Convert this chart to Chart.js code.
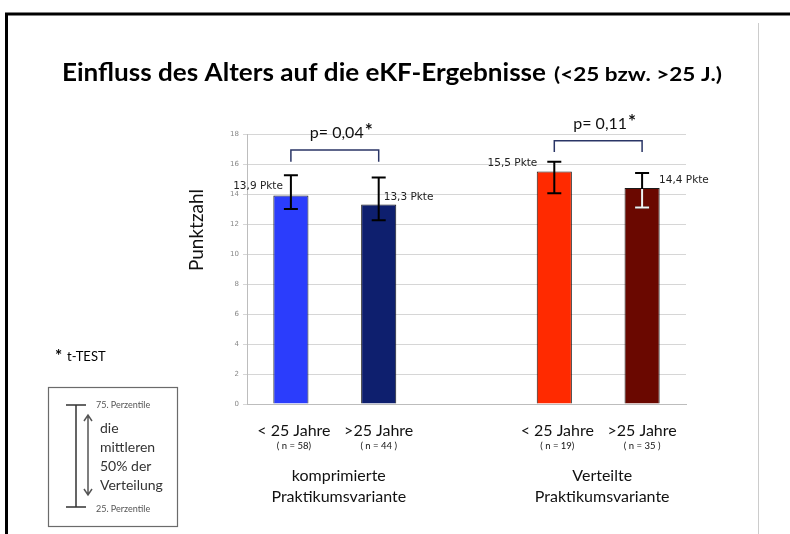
<!DOCTYPE html>
<html lang="de">
<head>
<meta charset="utf-8">
<script src="https://cdn.jsdelivr.net/npm/chart.js@4.4.1/dist/chart.umd.min.js"></script>
<style>
  html, body { margin: 0; padding: 0; background: #ffffff; }
  #wrap { position: relative; width: 790px; height: 534px; }
  canvas { display: block; }
</style>
</head>
<body>
<div id="wrap"><canvas id="c" width="790" height="534"></canvas></div>
<script>
// Age groups per course variant (the empty middle slot separates both variants)
const categories  = ['< 25 Jahre', '>25 Jahre', '', '< 25 Jahre', '>25 Jahre'];
const sampleSizes = ['( n = 58)', '( n = 44 )', '', '( n = 19)', '( n = 35 )'];
// Mean score (points) and interquartile range per group
const meanScores  = [13.9, 13.3, null, 15.5, 14.4];
const q25Scores   = [13.0, 12.25, null, 14.05, 13.1];
const q75Scores   = [15.25, 15.1, null, 16.15, 15.4];
const barColors   = ['#2b3dfc', '#0e1f6e', '#ff2a00', '#6a0800'];
// Course variants, each covering two age groups
const variantNames = [['komprimierte', 'Praktikumsvariante'], ['Verteilte', 'Praktikumsvariante']];
const variantSlots = [[0, 1], [3, 4]];
// t-test p-values between the two age groups of each variant
const pValues     = ['0,04', '0,11'];
const yTicks      = [0, 2, 4, 6, 8, 10, 12, 14, 16, 18];

const FONT = 'Lato, "Open Sans", sans-serif';

function fmt(v) { return v.toFixed(1).replace('.', ','); }

// Draw text scaled horizontally to the given width
function fitText(ctx, text, x, y, targetW) {
  const w = ctx.measureText(text).width;
  ctx.save();
  ctx.translate(x, y);
  ctx.scale(targetW / w, 1);
  ctx.fillText(text, 0, 0);
  ctx.restore();
}

const decorations = {
  id: 'decorations',
  afterDatasetsDraw(chart) {
    const ctx = chart.ctx;
    const xs = chart.scales.x, ys = chart.scales.y;
    ctx.save();

    // error bars (25th to 75th percentile)
    meanScores.forEach((v, i) => {
      if (v === null) return;
      const x = xs.getPixelForValue(i);
      const yLo = ys.getPixelForValue(q25Scores[i]);
      const yHi = ys.getPixelForValue(q75Scores[i]);
      const yTop = ys.getPixelForValue(v);
      const cap = 7;
      ctx.lineWidth = 2;
      ctx.strokeStyle = '#000';
      ctx.beginPath();
      ctx.moveTo(x, yHi); ctx.lineTo(x, yLo);
      ctx.moveTo(x - cap, yHi); ctx.lineTo(x + cap, yHi);
      ctx.moveTo(x - cap, yLo); ctx.lineTo(x + cap, yLo);
      ctx.stroke();
      // lower whisker drawn light on dark bars
      if (i === 4) {
        ctx.strokeStyle = '#f2f2f2';
        ctx.beginPath();
        ctx.moveTo(x, yTop + 1); ctx.lineTo(x, yLo);
        ctx.moveTo(x - cap, yLo); ctx.lineTo(x + cap, yLo);
        ctx.stroke();
      }
    });

    // value labels beside each bar
    const placement = [
      { side: 'left', dx: -8, dy: 0.63 },
      { side: 'right', dx: 5, dy: 0.45 },
      null,
      { side: 'left', dx: -17, dy: 0.55 },
      { side: 'right', dx: 17, dy: 0.5 }
    ];
    ctx.font = '10.5px "DejaVu Sans", sans-serif';
    ctx.fillStyle = '#222';
    ctx.textBaseline = 'middle';
    meanScores.forEach((v, i) => {
      if (v === null) return;
      const p = placement[i];
      const x = xs.getPixelForValue(i);
      const y = ys.getPixelForValue(v + p.dy);
      ctx.textAlign = p.side === 'left' ? 'right' : 'left';
      ctx.fillText(fmt(v) + ' Pkte', x + p.dx, y);
    });

    // significance brackets
    const bracketLevels = [[16.93, 16.15, 18.05], [17.55, 16.8, 18.65]];
    variantSlots.forEach((slots, g) => {
      const x1 = xs.getPixelForValue(slots[0]);
      const x2 = xs.getPixelForValue(slots[1]);
      const [top, leg, txt] = bracketLevels[g];
      const yT = ys.getPixelForValue(top), yL = ys.getPixelForValue(leg);
      ctx.strokeStyle = '#2a3566';
      ctx.lineWidth = 1.5;
      ctx.beginPath();
      ctx.moveTo(x1, yL); ctx.lineTo(x1, yT); ctx.lineTo(x2, yT); ctx.lineTo(x2, yL);
      ctx.stroke();
      const label = 'p= ' + pValues[g];
      ctx.font = '16px ' + FONT;
      const w1 = ctx.measureText(label).width;
      ctx.font = 'bold 19px ' + FONT;
      const w2 = ctx.measureText('*').width;
      const cx = (x1 + x2) / 2 + 6;
      const start = cx - (w1 + w2) / 2;
      const ty = ys.getPixelForValue(txt);
      ctx.fillStyle = '#111';
      ctx.textAlign = 'left';
      ctx.textBaseline = 'middle';
      ctx.font = '16px ' + FONT;
      ctx.fillText(label, start, ty);
      ctx.font = 'bold 19px ' + FONT;
      ctx.fillText('*', start + w1 + 1, ty - 2);
    });

    // category labels with sample sizes
    ctx.fillStyle = '#111';
    ctx.textAlign = 'center';
    categories.forEach((c, i) => {
      if (!c) return;
      const x = xs.getPixelForValue(i) + (i % 3 === 0 ? 3 : 0);
      ctx.font = '16px ' + FONT;
      ctx.fillText(c, x, 431);
      ctx.font = '9.5px ' + FONT;
      ctx.fillText(sampleSizes[i], x, 446);
    });

    // variant names below the groups
    variantSlots.forEach((slots, g) => {
      const cx = (xs.getPixelForValue(slots[0]) + xs.getPixelForValue(slots[1])) / 2 + 4;
      ctx.font = '16px ' + FONT;
      ctx.fillText(variantNames[g][0], cx, 476);
      ctx.fillText(variantNames[g][1], cx, 497);
    });

    // y axis title
    ctx.save();
    ctx.translate(197, 230);
    ctx.rotate(-Math.PI / 2);
    ctx.font = '19px ' + FONT;
    ctx.fillStyle = '#111';
    ctx.fillText('Punktzahl', 0, 0);
    ctx.restore();

    // heading
    ctx.fillStyle = '#000';
    ctx.textAlign = 'left';
    ctx.textBaseline = 'alphabetic';
    ctx.font = 'bold 25px ' + FONT;
    fitText(ctx, 'Einfluss des Alters auf die eKF-Ergebnisse', 62, 81, 484);
    ctx.font = 'bold 18px ' + FONT;
    fitText(ctx, '(<25 bzw. >25 J.)', 554, 81, 168);

    // footnote
    ctx.font = 'bold 17px ' + FONT;
    ctx.fillText('*', 55, 362);
    ctx.font = '13px ' + FONT;
    ctx.textBaseline = 'middle';
    ctx.fillText('t-TEST', 67, 357);

    // key for the error bars
    ctx.strokeStyle = '#6b6b6b';
    ctx.lineWidth = 1.2;
    ctx.strokeRect(48.5, 387.5, 129, 139);
    ctx.strokeStyle = '#333';
    ctx.lineWidth = 1.5;
    ctx.beginPath();
    ctx.moveTo(76, 405); ctx.lineTo(76, 507);
    ctx.moveTo(66, 405); ctx.lineTo(86, 405);
    ctx.moveTo(66, 507); ctx.lineTo(86, 507);
    ctx.stroke();
    ctx.strokeStyle = '#555';
    ctx.beginPath();
    ctx.moveTo(88, 416); ctx.lineTo(88, 494);
    ctx.moveTo(84, 421); ctx.lineTo(88, 415); ctx.lineTo(92, 421);
    ctx.moveTo(84, 489); ctx.lineTo(88, 495); ctx.lineTo(92, 489);
    ctx.stroke();
    ctx.fillStyle = '#555';
    ctx.font = '9px ' + FONT;
    ctx.fillText('75. Perzentile', 96, 405);
    ctx.fillText('25. Perzentile', 96, 509);
    ctx.fillStyle = '#333';
    ctx.font = '14px ' + FONT;
    ['die', 'mittleren', '50% der', 'Verteilung'].forEach((t, k) => {
      ctx.fillText(t, 100, 428 + k * 19);
    });

    // page frame
    ctx.strokeStyle = '#000';
    ctx.lineWidth = 3;
    ctx.beginPath();
    ctx.moveTo(6.5, 534); ctx.lineTo(6.5, 14); ctx.lineTo(790, 14);
    ctx.stroke();
    ctx.strokeStyle = '#cccccc';
    ctx.lineWidth = 1;
    ctx.beginPath();
    ctx.moveTo(758.5, 23); ctx.lineTo(758.5, 534);
    ctx.stroke();

    ctx.restore();
  }
};

new Chart(document.getElementById('c'), {
  type: 'bar',
  data: {
    labels: categories,
    datasets: [{
      data: meanScores,
      backgroundColor: [barColors[0], barColors[1], 'transparent', barColors[2], barColors[3]],
      borderColor: '#1a1a1a',
      borderWidth: 1,
      barPercentage: 0.4,
      categoryPercentage: 1
    }]
  },
  options: {
    responsive: false,
    animation: false,
    events: [],
    layout: { padding: { left: 227, right: 104, top: 134, bottom: 130 } },
    plugins: { legend: { display: false }, tooltip: { enabled: false }, title: { display: false } },
    scales: {
      x: {
        grid: { display: false },
        border: { display: true, color: '#bdbdbd', width: 1 },
        ticks: { display: false },
        afterFit(scale) { scale.height = 0; }
      },
      y: {
        min: 0, max: 18,
        afterBuildTicks(scale) { scale.ticks = yTicks.map(v => ({ value: v })); },
        grid: { color: '#d6d6d6', lineWidth: 1, tickLength: 4, drawTicks: true },
        border: { display: true, color: '#bdbdbd', width: 1 },
        ticks: { font: { size: 7, family: '"DejaVu Sans", sans-serif' }, color: '#888', padding: 4 },
        afterFit(scale) { scale.width = 20; }
      }
    }
  },
  plugins: [decorations]
});
</script>
</body>
</html>
